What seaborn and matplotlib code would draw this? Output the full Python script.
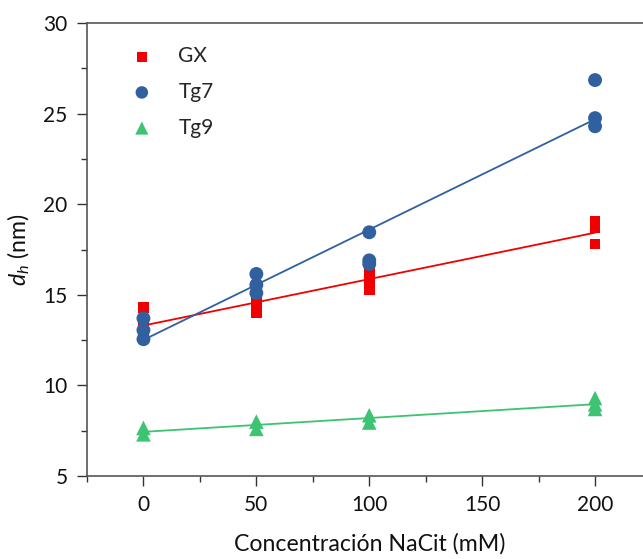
import matplotlib
matplotlib.use("Agg")
import matplotlib.pyplot as plt
import seaborn as sns
import pandas as pd
import numpy as np
from matplotlib.ticker import MultipleLocator

# Data
series_names = ["GX", "Tg7", "Tg9"]
concentracion = [0, 0, 0, 50, 50, 50, 100, 100, 100, 200, 200, 200]
gx_values = [14.3, 13.2, 13.0, 14.8, 14.3, 14.0, 16.3, 15.8, 15.3, 19.05, 18.7, 17.8]
tg7_values = [13.7, 13.05, 12.55, 16.15, 15.55, 15.1, 18.45, 16.9, 16.7, 26.85, 24.75, 24.3]
tg9_conc = [0, 0, 50, 50, 100, 100, 200, 200, 200]
tg9_values = [7.65, 7.3, 8.0, 7.6, 8.35, 7.95, 9.3, 8.95, 8.7]

colors = {"GX": "#F00000", "Tg7": "#30609E", "Tg9": "#3CC472"}
markers = {"GX": "s", "Tg7": "o", "Tg9": "^"}
sizes = {"GX": 60, "Tg7": 100, "Tg9": 110}

df = pd.concat([
    pd.DataFrame({"conc": concentracion, "dh": gx_values, "serie": "GX"}),
    pd.DataFrame({"conc": concentracion, "dh": tg7_values, "serie": "Tg7"}),
    pd.DataFrame({"conc": tg9_conc, "dh": tg9_values, "serie": "Tg9"}),
], ignore_index=True)

sns.set_theme(style="ticks")
plt.rcParams["font.family"] = ["Lato", "DejaVu Sans"]
plt.rcParams["mathtext.fontset"] = "custom"
plt.rcParams["mathtext.it"] = "Lato:italic"
plt.rcParams["mathtext.rm"] = "Lato"

fig = plt.figure(figsize=(6.43, 5.59), dpi=100)
ax = fig.add_axes([87 / 643, 83 / 559, (651.5 - 87) / 643, (476 - 23) / 559])

for name in series_names:
    sub = df[df["serie"] == name]
    sns.regplot(data=sub, x="conc", y="dh", ax=ax, ci=None, scatter=False,
                truncate=True, color=colors[name], line_kws={"lw": 1.3, "zorder": 2})

for name in series_names:
    sub = df[df["serie"] == name]
    sns.scatterplot(data=sub, x="conc", y="dh", ax=ax, color=colors[name],
                    marker=markers[name], s=sizes[name], edgecolor="none",
                    linewidth=0, label=name, zorder=3)

ax.set_xlim(-25, 225)
ax.set_ylim(5, 30)
ax.xaxis.set_major_locator(MultipleLocator(50))
ax.xaxis.set_minor_locator(MultipleLocator(25))
ax.yaxis.set_major_locator(MultipleLocator(5))
ax.yaxis.set_minor_locator(MultipleLocator(2.5))
ax.tick_params(axis="both", which="major", direction="out", length=7, width=1,
               color="#333333", labelsize=15, labelcolor="#111111", pad=7)
ax.tick_params(axis="both", which="minor", direction="out", length=4, width=1,
               color="#333333")
ax.tick_params(top=False, right=False, which="both")
for sp in ax.spines.values():
    sp.set_color("#555555")
    sp.set_linewidth(1.2)
    sp.set_visible(True)

ax.set_xlabel("Concentración NaCit (mM)", fontsize=16.7, color="#111111", labelpad=13)
ax.set_ylabel(r"$d_h$ (nm)", fontsize=16.7, color="#111111", labelpad=8)

leg = ax.legend(loc="upper left", bbox_to_anchor=(0.027, 0.99), frameon=False,
                fontsize=15, handletextpad=0.75, labelspacing=0.75, markerscale=0.9)

fig.savefig("out.png", dpi=100)
